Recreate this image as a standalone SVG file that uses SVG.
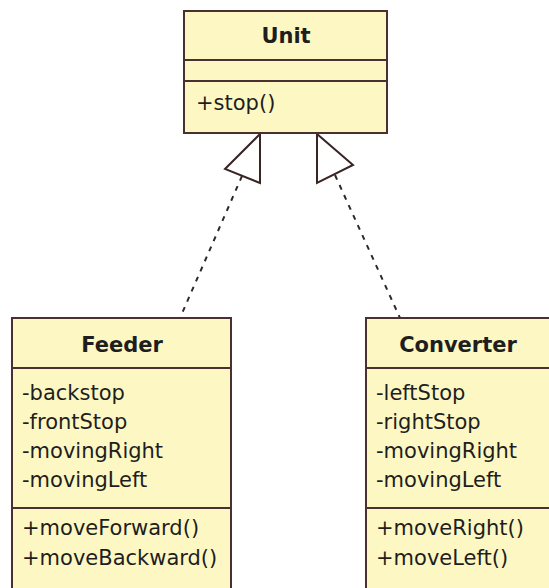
<svg xmlns="http://www.w3.org/2000/svg" width="549" height="588" viewBox="0 0 549 588">
<style>
.box{fill:#fdf8c3;stroke:#4a3030;stroke-width:2}
.div{stroke:#4a3030;stroke-width:2}
.t{font-family:"DejaVu Sans",sans-serif;font-size:21px;fill:#1e1e1e}
.b{font-weight:bold;text-anchor:middle}
.dash{stroke:#2a2a2a;stroke-width:2;stroke-dasharray:5 6;fill:none}
.tri{fill:#fff;stroke:#3a2525;stroke-width:2}
</style>
<rect width="549" height="588" fill="#fff"/>
<g id="connectors">
<line class="dash" x1="242" y1="176" x2="180" y2="318"/>
<line class="dash" x1="335" y1="175" x2="400" y2="318"/>
<polygon class="tri" points="260,134 260,183 225,169"/>
<polygon class="tri" points="317,134 317,183 353,165"/>
</g>
<g id="Unit">
<rect class="box" x="184" y="11" width="203" height="122"/>
<line class="div" x1="184" y1="60" x2="387" y2="60"/>
<line class="div" x1="184" y1="81" x2="387" y2="81"/>
<text class="t b" x="286" y="43">Unit</text>
<text class="t" x="196" y="110">+stop()</text>
</g>
<g id="Feeder">
<rect class="box" x="12" y="318" width="219" height="280"/>
<line class="div" x1="12" y1="368" x2="231" y2="368"/>
<line class="div" x1="12" y1="508" x2="231" y2="508"/>
<text class="t b" x="122" y="352">Feeder</text>
<text class="t" x="22" y="400">-backstop</text>
<text class="t" x="22" y="429">-frontStop</text>
<text class="t" x="22" y="458">-movingRight</text>
<text class="t" x="22" y="487">-movingLeft</text>
<text class="t" x="22" y="535">+moveForward()</text>
<text class="t" x="22" y="565">+moveBackward()</text>
</g>
<g id="Converter">
<rect class="box" x="366" y="318" width="190" height="280"/>
<line class="div" x1="366" y1="368" x2="556" y2="368"/>
<line class="div" x1="366" y1="508" x2="556" y2="508"/>
<text class="t b" x="458" y="352">Converter</text>
<text class="t" x="376" y="400">-leftStop</text>
<text class="t" x="376" y="429">-rightStop</text>
<text class="t" x="376" y="458">-movingRight</text>
<text class="t" x="376" y="487">-movingLeft</text>
<text class="t" x="376" y="535">+moveRight()</text>
<text class="t" x="376" y="565">+moveLeft()</text>
</g>
</svg>
